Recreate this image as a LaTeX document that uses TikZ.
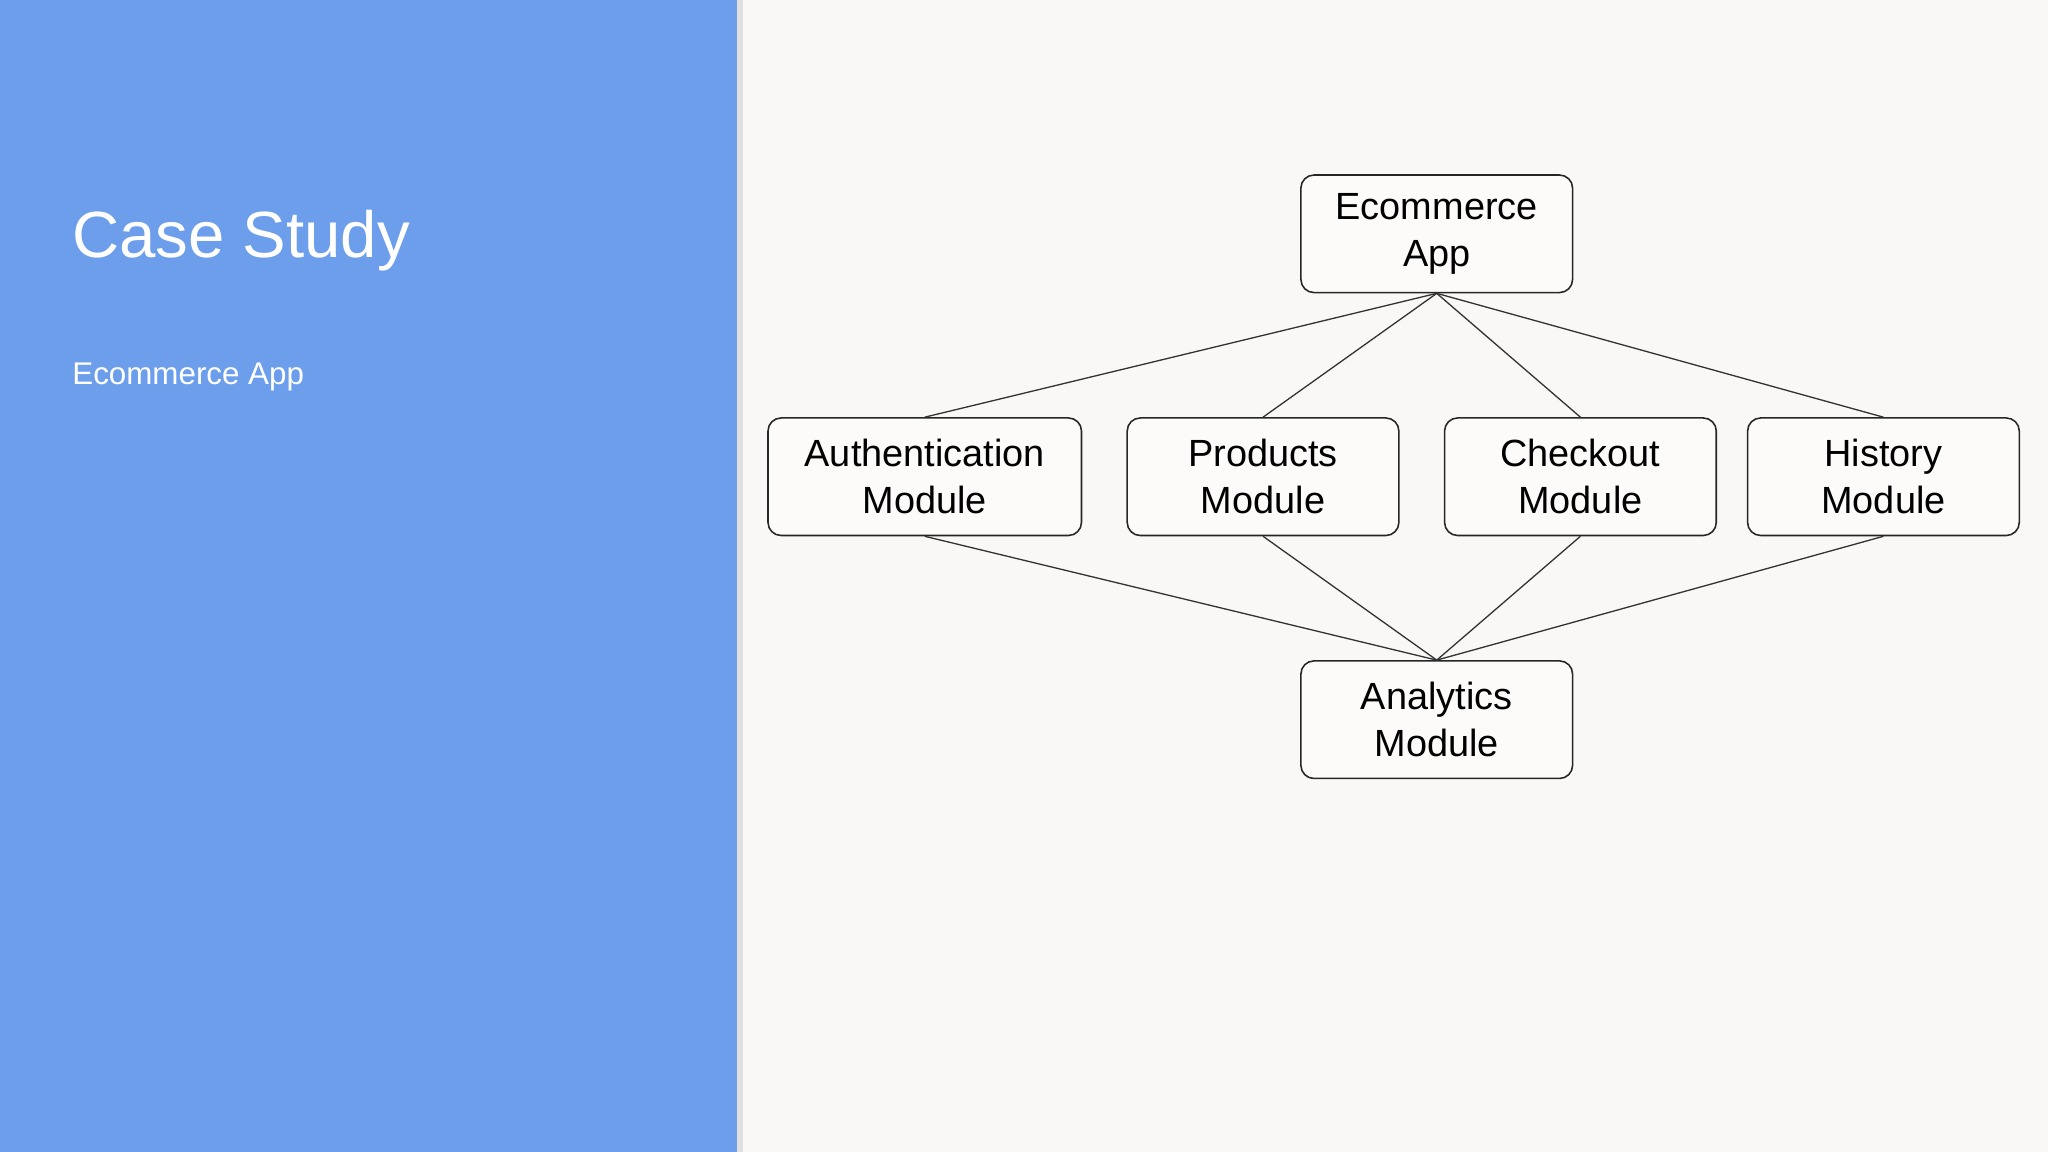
\documentclass[tikz,border=0pt]{standalone}
\usepackage{fontspec}
\setmainfont{Liberation Sans}
\begin{document}
\begin{tikzpicture}[x=0.5pt,y=-0.5pt,
  box/.style={draw=black!85,line width=0.6pt,rounded corners=5pt,fill=white!50!bgc,minimum width=104pt,minimum height=45pt,align=center,font=\fontsize{14.5}{18}\selectfont,inner sep=2pt},
  link/.style={draw=black!80,line width=0.5pt}]
\definecolor{bgc}{HTML}{F9F8F6}
\definecolor{panel}{HTML}{6D9EEB}
\useasboundingbox (0,0) rectangle (1568,882);
\fill[bgc] (0,0) rectangle (1568,882);
\fill[black!12] (563,0) rectangle (569,882);
\fill[panel] (0,0) rectangle (564,882);
\node[anchor=base west,text=white,font=\fontsize{25}{30}\selectfont,inner sep=0] (title) at (55,197) {Case Study};
\node[anchor=base west,text=white,font=\fontsize{12}{14}\selectfont,inner sep=0] (sub) at (55,294) {Ecommerce App};
\node[box] (app) at (1100,179) {Ecommerce\\App};
\node[box,minimum width=120pt] (auth) at (708,365) {Authentication\\Module};
\node[box] (prod) at (967,365) {Products\\Module};
\node[box] (check) at (1210,365) {Checkout\\Module};
\node[box] (hist) at (1442,365) {History\\Module};
\node[box] (ana) at (1100,551) {Analytics\\Module};
\foreach \n in {auth,prod,check,hist}{
  \draw[link] (app.south) -- (\n.north);
  \draw[link] (\n.south) -- (ana.north);
}
\end{tikzpicture}
\end{document}
